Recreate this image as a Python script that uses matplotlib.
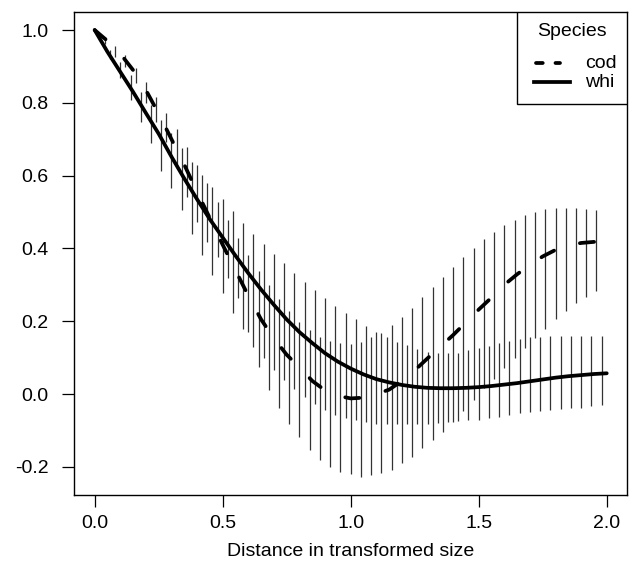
import numpy as np
import matplotlib
matplotlib.use("Agg")
import matplotlib.pyplot as plt
from matplotlib.lines import Line2D
from matplotlib.patches import Rectangle

plt.rcParams['font.family'] = ['Liberation Sans', 'DejaVu Sans']
plt.rcParams['axes.unicode_minus'] = False

# fitted curves, every 0.05
fit_x = np.round(np.arange(0, 2.0001, 0.05), 2)
cod_fit = [1.0, 0.97, 0.935, 0.89, 0.835, 0.77, 0.70, 0.63, 0.555, 0.483,
           0.41, 0.34, 0.27, 0.205, 0.153, 0.108, 0.073, 0.036, 0.01, -0.005,
           -0.012, -0.01, 0.0, 0.012, 0.036, 0.065, 0.098, 0.13, 0.162, 0.197,
           0.232, 0.265, 0.30, 0.329, 0.355, 0.378, 0.396, 0.409, 0.415, 0.418,
           0.418]
whi_fit = [1.0, 0.94, 0.885, 0.83, 0.772, 0.715, 0.652, 0.592, 0.535, 0.48,
           0.43, 0.38, 0.332, 0.287, 0.245, 0.205, 0.17, 0.14, 0.112, 0.089,
           0.07, 0.054, 0.041, 0.032, 0.025, 0.02, 0.017, 0.016, 0.016, 0.017,
           0.019, 0.022, 0.026, 0.03, 0.035, 0.04, 0.045, 0.049, 0.052, 0.055,
           0.057]

# interval bars (cod at 0.00, 0.04, ...; whi at 0.02, 0.06, ...)
cod_bar_x = np.round(np.arange(0, 1.99, 0.04), 2)
cod_hi = [1.000, 0.980, 0.955, 0.931, 0.895, 0.858, 0.817, 0.771, 0.727, 0.678,
          0.629, 0.579, 0.528, 0.478, 0.428, 0.382, 0.338, 0.299, 0.261, 0.229,
          0.199, 0.176, 0.157, 0.147, 0.139, 0.138, 0.144, 0.156, 0.168, 0.190,
          0.211, 0.235, 0.266, 0.294, 0.322, 0.350, 0.377, 0.400, 0.425, 0.446,
          0.464, 0.478, 0.492, 0.501, 0.507, 0.510, 0.512, 0.511, 0.509, 0.505]
cod_lo = [1.000, 0.962, 0.925, 0.898, 0.855, 0.800, 0.748, 0.693, 0.620, 0.542,
          0.473, 0.418, 0.377, 0.318, 0.263, 0.170, 0.075, 0.011, -0.037, -0.081,
          -0.117, -0.154, -0.181, -0.201, -0.213, -0.220, -0.227, -0.222, -0.218, -0.209,
          -0.190, -0.172, -0.149, -0.127, -0.104, -0.078, -0.046, -0.016, 0.016, 0.040,
          0.071, 0.098, 0.126, 0.153, 0.178, 0.205, 0.228, 0.249, 0.267, 0.283]

whi_bar_x = np.round(np.arange(0.02, 2.0, 0.04), 2)
whi_hi = [0.990, 0.945, 0.913, 0.876, 0.830, 0.794, 0.752, 0.717, 0.675, 0.638,
          0.602, 0.570, 0.535, 0.504, 0.471, 0.441, 0.412, 0.386, 0.359, 0.333,
          0.309, 0.286, 0.263, 0.242, 0.223, 0.205, 0.187, 0.171, 0.157, 0.144,
          0.135, 0.125, 0.116, 0.112, 0.112, 0.114, 0.121, 0.126, 0.133, 0.139,
          0.146, 0.150, 0.156, 0.157, 0.159, 0.159, 0.160, 0.160, 0.160, 0.159]
whi_lo = [0.972, 0.920, 0.867, 0.808, 0.748, 0.689, 0.612, 0.566, 0.505, 0.441,
          0.382, 0.327, 0.277, 0.223, 0.180, 0.130, 0.098, 0.066, 0.038, 0.013,
          -0.007, -0.026, -0.044, -0.058, -0.067, -0.071, -0.076, -0.081, -0.082, -0.082,
          -0.082, -0.081, -0.081, -0.079, -0.076, -0.074, -0.071, -0.070, -0.067, -0.062,
          -0.058, -0.053, -0.050, -0.046, -0.044, -0.042, -0.039, -0.037, -0.033, -0.030]

x_ticks = [0.0, 0.5, 1.0, 1.5, 2.0]
y_ticks = [-0.2, 0.0, 0.2, 0.4, 0.6, 0.8, 1.0]

fig = plt.figure(figsize=(6.3, 5.7), dpi=100)
ax = fig.add_axes([74.2 / 630, 1 - 494.5 / 570, 553 / 630, 482.3 / 570])

ax.vlines(cod_bar_x, cod_lo, cod_hi, color='#333333', lw=0.9)
ax.vlines(whi_bar_x, whi_lo, whi_hi, color='#333333', lw=0.9)

# dash lengths are in units of the line width
ax.plot(fit_x, cod_fit, color='black', lw=2.7, linestyle=(0, (3.8, 7.2)),
        dash_capstyle='round')
ax.plot(fit_x, whi_fit, color='black', lw=2.7, solid_capstyle='round')

ax.set_xlim(-0.08, 2.08)
ax.set_ylim(-0.276, 1.049)
ax.set_xticks(x_ticks)
ax.set_xticklabels(['%.1f' % v for v in x_ticks])
ax.set_yticks(y_ticks)
ax.set_yticklabels(['%.1f' % v for v in y_ticks])
ax.tick_params(length=8.5, width=0.9, labelsize=14, color='black')
ax.tick_params(axis='x', pad=6)
ax.tick_params(axis='y', pad=10)
for s in ax.spines.values():
    s.set_linewidth(1.0)
ax.set_xlabel('Distance in transformed size', fontsize=14, labelpad=8)

# legend box in the top right corner, R style
ax.add_patch(Rectangle((0.8007, 0.8097), 0.1993, 0.1903, transform=ax.transAxes,
                       facecolor='white', edgecolor='black', lw=1.0, zorder=5))
ax.text(0.900, 0.9596, 'Species', transform=ax.transAxes, fontsize=14,
        ha='center', va='center', zorder=6)
ax.add_line(Line2D([0.8350, 0.8790], [0.8937, 0.8937], transform=ax.transAxes,
                   color='black', lw=2.7, linestyle=(0, (1.8, 3.4)),
                   dash_capstyle='round', zorder=6))
ax.add_line(Line2D([0.8315, 0.8966], [0.8545, 0.8545], transform=ax.transAxes,
                   color='black', lw=2.7, zorder=6))
ax.text(0.9237, 0.8937, 'cod', transform=ax.transAxes, fontsize=14,
        ha='left', va='center', zorder=6)
ax.text(0.9237, 0.8545, 'whi', transform=ax.transAxes, fontsize=14,
        ha='left', va='center', zorder=6)

fig.savefig('out.png', dpi=100)
